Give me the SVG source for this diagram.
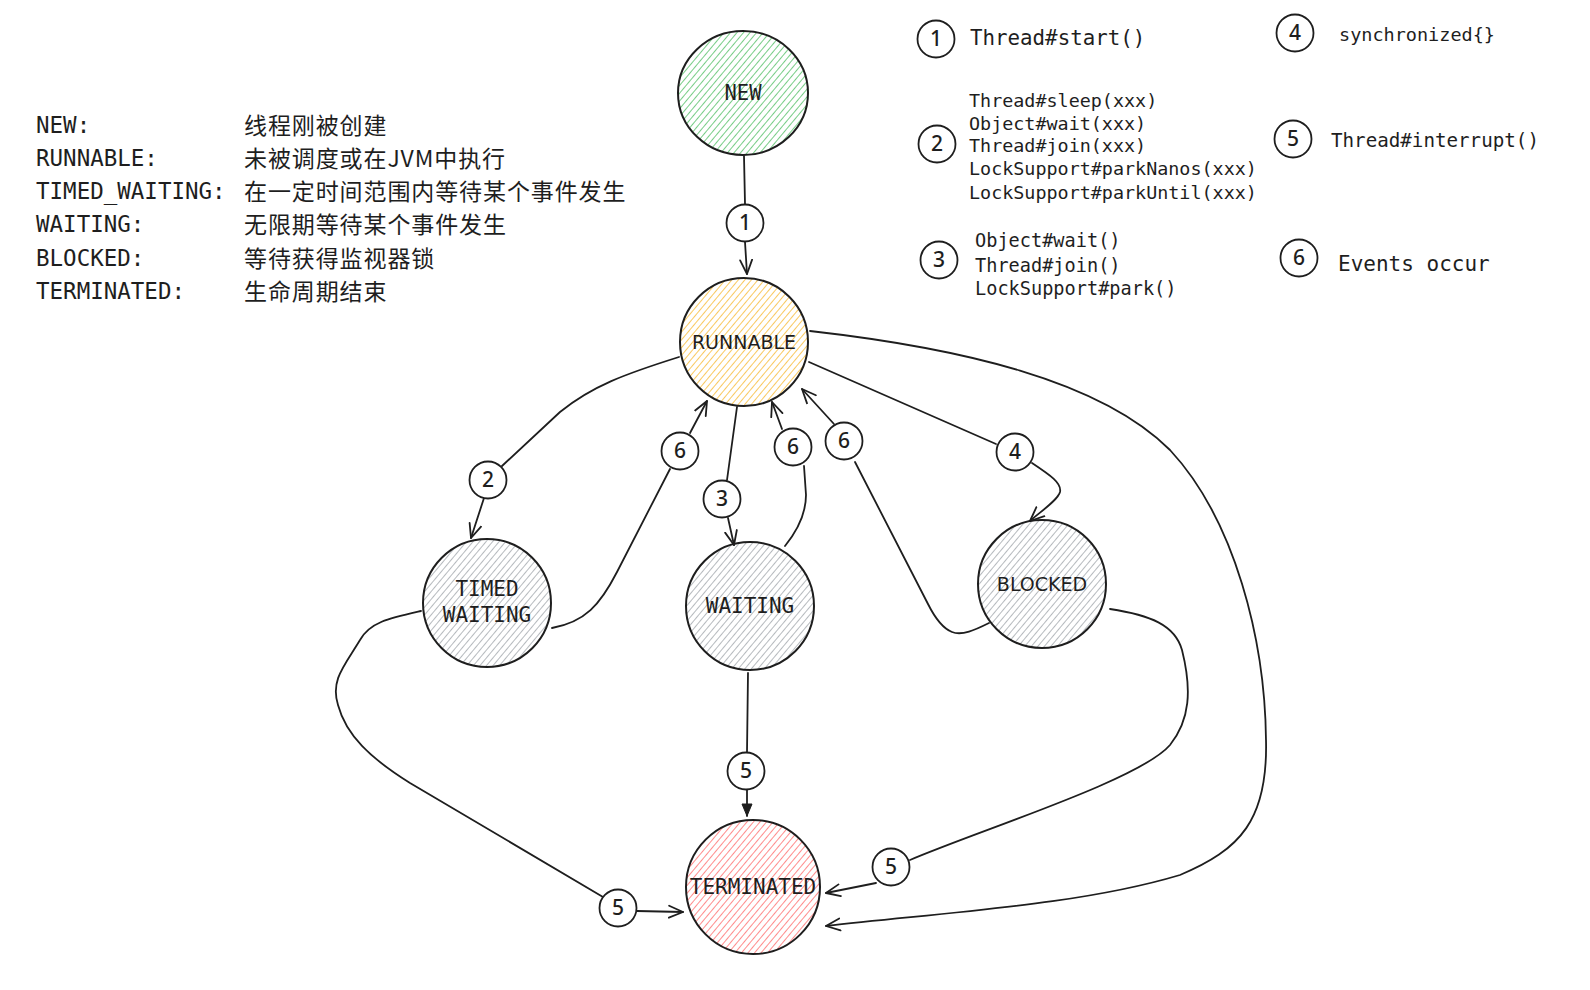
<svg xmlns="http://www.w3.org/2000/svg" width="1590" height="990" viewBox="0 0 1590 990">
  <style>
    .mono { font-family: "DejaVu Sans Mono", "Liberation Mono", monospace; fill: #1e1e1e; }
    .cjk { font-family: "Noto Sans CJK SC", "Liberation Sans", sans-serif; fill: #1e1e1e; }
    .sans { font-family: "DejaVu Sans", "Liberation Sans", sans-serif; fill: #1e1e1e; }
    .node { stroke: #1e1e1e; stroke-width: 2; }
    .edge { fill: none; stroke: #1e1e1e; stroke-width: 1.8; stroke-linecap: round; stroke-linejoin: round; }
    .lbl { fill: #ffffff; stroke: #1e1e1e; stroke-width: 1.8; }
    .num { font-family: "Noto Sans", "DejaVu Sans", sans-serif; font-size: 21px; font-weight: 500; fill: #1e1e1e; text-anchor: middle; }
    .nlabel { text-anchor: middle; }
  </style>
  <defs>
    <pattern id="hGreen" width="5" height="6" patternUnits="userSpaceOnUse" patternTransform="rotate(40)">
      <line x1="0" y1="0" x2="0" y2="6" stroke="#55c068" stroke-width="1.6"/>
    </pattern>
    <pattern id="hOrange" width="5" height="6" patternUnits="userSpaceOnUse" patternTransform="rotate(40)">
      <line x1="0" y1="0" x2="0" y2="6" stroke="#f8bb38" stroke-width="1.6"/>
    </pattern>
    <pattern id="hGray" width="5" height="6" patternUnits="userSpaceOnUse" patternTransform="rotate(40)">
      <line x1="0" y1="0" x2="0" y2="6" stroke="#a3a8ad" stroke-width="1.6"/>
    </pattern>
    <pattern id="hRed" width="5" height="6" patternUnits="userSpaceOnUse" patternTransform="rotate(40)">
      <line x1="0" y1="0" x2="0" y2="6" stroke="#ff7070" stroke-width="1.6"/>
    </pattern>
    <marker id="arr" viewBox="0 0 16 16" refX="15" refY="8" markerWidth="16" markerHeight="16" markerUnits="userSpaceOnUse" orient="auto">
      <path d="M1,2 L15,8 L1,14" fill="none" stroke="#1e1e1e" stroke-width="1.8" stroke-linecap="round" stroke-linejoin="round"/>
    </marker>
    <marker id="arrf" viewBox="0 0 14 14" refX="13" refY="7" markerWidth="14" markerHeight="14" markerUnits="userSpaceOnUse" orient="auto">
      <path d="M1,2 L13,7 L1,12 Z" fill="#1e1e1e" stroke="#1e1e1e" stroke-width="1"/>
    </marker>
  </defs>

  <rect width="1590" height="990" fill="#ffffff"/>

  <!-- Left description list -->
  <g id="state-descriptions">
    <text class="mono" x="36" y="133" font-size="22.5">NEW:</text>
    <text class="mono" x="36" y="166" font-size="22.5">RUNNABLE:</text>
    <text class="mono" x="36" y="199" font-size="22.5">TIMED_WAITING:</text>
    <text class="mono" x="36" y="232" font-size="22.5">WAITING:</text>
    <text class="mono" x="36" y="266" font-size="22.5">BLOCKED:</text>
    <text class="mono" x="36" y="299" font-size="22.5">TERMINATED:</text>
    <text class="cjk" x="244" y="134" font-size="23" letter-spacing="0.9">线程刚被创建</text>
    <text class="cjk" x="244" y="167" font-size="23" letter-spacing="0.9">未被调度或在JVM中执行</text>
    <text class="cjk" x="244" y="200" font-size="23" letter-spacing="0.9">在一定时间范围内等待某个事件发生</text>
    <text class="cjk" x="244" y="233" font-size="23" letter-spacing="0.9">无限期等待某个事件发生</text>
    <text class="cjk" x="244" y="267" font-size="23" letter-spacing="0.9">等待获得监视器锁</text>
    <text class="cjk" x="244" y="300" font-size="23" letter-spacing="0.9">生命周期结束</text>
  </g>

  <!-- Legend -->
  <g id="legend">
    <g id="legend-1">
      <circle class="lbl" cx="936" cy="39" r="18.5"/>
      <text class="num" x="936" y="46">1</text>
      <text class="mono" x="970" y="45" font-size="20.8">Thread#start()</text>
    </g>
    <g id="legend-2">
      <circle class="lbl" cx="937" cy="144" r="18.5"/>
      <text class="num" x="937" y="151">2</text>
      <text class="mono" x="969" y="107" font-size="18.4">Thread#sleep(xxx)</text>
      <text class="mono" x="969" y="130" font-size="18.4">Object#wait(xxx)</text>
      <text class="mono" x="969" y="152" font-size="18.4">Thread#join(xxx)</text>
      <text class="mono" x="969" y="175" font-size="18.4">LockSupport#parkNanos(xxx)</text>
      <text class="mono" x="969" y="199" font-size="18.4">LockSupport#parkUntil(xxx)</text>
    </g>
    <g id="legend-3">
      <circle class="lbl" cx="939" cy="260" r="18.5"/>
      <text class="num" x="939" y="267">3</text>
      <text class="mono" x="975" y="247" font-size="18.6">Object#wait()</text>
      <text class="mono" x="975" y="272" font-size="18.6">Thread#join()</text>
      <text class="mono" x="975" y="295" font-size="18.6">LockSupport#park()</text>
    </g>
    <g id="legend-4">
      <circle class="lbl" cx="1295" cy="33" r="18.5"/>
      <text class="num" x="1295" y="40">4</text>
      <text class="mono" x="1339" y="41" font-size="18.5">synchronized{}</text>
    </g>
    <g id="legend-5">
      <circle class="lbl" cx="1293" cy="139" r="18.5"/>
      <text class="num" x="1293" y="146">5</text>
      <text class="mono" x="1331" y="147" font-size="19.2">Thread#interrupt()</text>
    </g>
    <g id="legend-6">
      <circle class="lbl" cx="1299" cy="258" r="18.5"/>
      <text class="num" x="1299" y="265">6</text>
      <text class="mono" x="1338" y="271" font-size="21">Events occur</text>
    </g>
  </g>

  <!-- Connectors -->
  <g id="connectors">
    <path class="edge" d="M744,156 L745,204"/>
    <path class="edge" d="M745,242 L747,274" marker-end="url(#arr)"/>
    <path class="edge" d="M679,357 C 625,374 592,386 560,412 L 502,466"/>
    <path class="edge" d="M484,498 L 471,538" marker-end="url(#arr)"/>
    <path class="edge" d="M552,628 C 585,622 600,605 617,572 L 670,469"/>
    <path class="edge" d="M690,433 L 707,401" marker-end="url(#arr)"/>
    <path class="edge" d="M737,407 L 727,480"/>
    <path class="edge" d="M728,518 L 734,545" marker-end="url(#arr)"/>
    <path class="edge" d="M785,546 Q 806,520 806,495 L 804,466"/>
    <path class="edge" d="M782,429 L 772,402" marker-end="url(#arr)"/>
    <path class="edge" d="M989,623 C 975,630 962,636 952,632 C 942,628 935,618 928,604 L 855,462"/>
    <path class="edge" d="M834,424 L 802,389" marker-end="url(#arr)"/>
    <path class="edge" d="M809,362 L 996,444"/>
    <path class="edge" d="M1032,463 C 1050,475 1062,483 1060,492 C 1058,500 1040,512 1030,521" marker-end="url(#arr)"/>
    <path class="edge" d="M810,331 C 960,348 1100,380 1170,450 C 1235,520 1265,640 1266,740 C 1268,820 1240,850 1180,875 C 1080,905 950,912 826,926" marker-end="url(#arr)"/>
    <path class="edge" d="M748,673 L 747,752"/>
    <path class="edge" d="M747,790 L 747,816" marker-end="url(#arrf)"/>
    <path class="edge" d="M1110,609 C 1150,615 1175,625 1182,650 C 1192,690 1190,720 1170,745 C 1140,780 980,830 910,860"/>
    <path class="edge" d="M876,883 L 826,893" marker-end="url(#arr)"/>
    <path class="edge" d="M421,611 C 390,618 370,622 360,640 C 345,665 330,680 338,705 C 346,735 370,758 410,783 L 603,897"/>
    <path class="edge" d="M637,911 L 683,912" marker-end="url(#arr)"/>

    <g id="edge-labels">
      <circle class="lbl" cx="745" cy="223" r="18.5"/><text class="num" x="745" y="230">1</text>
      <circle class="lbl" cx="488" cy="480" r="18.5"/><text class="num" x="488" y="487">2</text>
      <circle class="lbl" cx="680" cy="451" r="18.5"/><text class="num" x="680" y="458">6</text>
      <circle class="lbl" cx="722" cy="499" r="18.5"/><text class="num" x="722" y="506">3</text>
      <circle class="lbl" cx="793" cy="447" r="18.5"/><text class="num" x="793" y="454">6</text>
      <circle class="lbl" cx="844" cy="441" r="18.5"/><text class="num" x="844" y="448">6</text>
      <circle class="lbl" cx="1015" cy="452" r="18.5"/><text class="num" x="1015" y="459">4</text>
      <circle class="lbl" cx="746" cy="771" r="18.5"/><text class="num" x="746" y="778">5</text>
      <circle class="lbl" cx="891" cy="867" r="18.5"/><text class="num" x="891" y="874">5</text>
      <circle class="lbl" cx="618" cy="908" r="18.5"/><text class="num" x="618" y="915">5</text>
    </g>
  </g>

  <!-- Nodes -->
  <g id="node-new">
    <ellipse class="node" cx="743" cy="93" rx="65" ry="62" fill="url(#hGreen)"/>
    <text class="mono nlabel" x="743" y="100" font-size="20.5">NEW</text>
  </g>
  <g id="node-runnable">
    <circle class="node" cx="744" cy="342" r="64" fill="url(#hOrange)"/>
    <text class="sans nlabel" x="744" y="349" font-size="19">RUNNABLE</text>
  </g>
  <g id="node-timed-waiting">
    <circle class="node" cx="487" cy="603" r="64" fill="url(#hGray)"/>
    <text class="mono nlabel" x="487" y="596" font-size="21">TIMED</text>
    <text class="mono nlabel" x="487" y="622" font-size="21">WAITING</text>
  </g>
  <g id="node-waiting">
    <circle class="node" cx="750" cy="606" r="64" fill="url(#hGray)"/>
    <text class="mono nlabel" x="750" y="613" font-size="21">WAITING</text>
  </g>
  <g id="node-blocked">
    <circle class="node" cx="1042" cy="584" r="64" fill="url(#hGray)"/>
    <text class="sans nlabel" x="1042" y="591" font-size="19">BLOCKED</text>
  </g>
  <g id="node-terminated">
    <circle class="node" cx="753" cy="887" r="67" fill="url(#hRed)"/>
    <text class="mono nlabel" x="753" y="894" font-size="21">TERMINATED</text>
  </g>
</svg>
